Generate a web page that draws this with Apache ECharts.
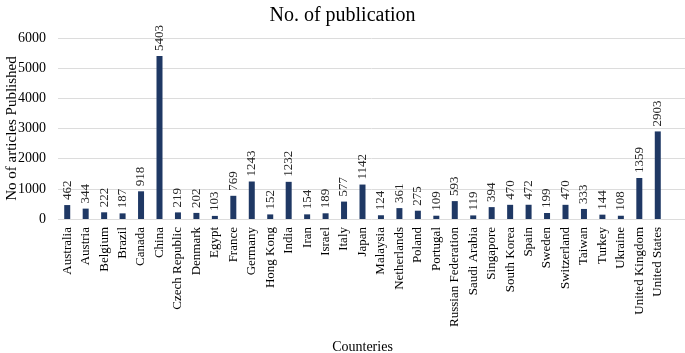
<!DOCTYPE html>
<html><head><meta charset="utf-8">
<script src="https://cdn.jsdelivr.net/npm/echarts@6/dist/echarts.min.js"></script>
<style>html,body{margin:0;padding:0;background:#fff}#c{width:685px;height:353px}</style>
</head><body><div id="c"></div>
<script>
const countries = ["Australia","Austria","Belgium","Brazil","Canada","China","Czech Republic","Denmark","Egypt","France","Germany","Hong Kong","India","Iran","Israel","Italy","Japan","Malaysia","Netherlands","Poland","Portugal","Russian Federation","Saudi Arabia","Singapore","South Korea","Spain","Sweden","Switzerland","Taiwan","Turkey","Ukraine","United Kingdom","United States"];
const publications = [462,344,222,187,918,5403,219,202,103,769,1243,152,1232,154,189,577,1142,124,361,275,109,593,119,394,470,472,199,470,333,144,108,1359,2903];
const yTicks = [0,1000,2000,3000,4000,5000,6000];
const F = "'Liberation Serif','Times New Roman',serif";
const chart = echarts.init(document.getElementById('c'));
chart.setOption({
  animation:false,
  title:{text:"No. of publication",left:'center',top:1,textStyle:{fontFamily:F,fontWeight:'normal',fontSize:20,color:'#000'}},
  grid:[
    {left:58,right:18,top:38,bottom:134,containLabel:false,outerBoundsMode:'none'},
    {left:58,right:0,top:38,bottom:134,containLabel:false,outerBoundsMode:'none'}
  ],
  xAxis:[
    {type:'category',data:countries,gridIndex:0,axisLine:{show:false},axisTick:{show:false},
     axisLabel:{rotate:90,interval:0,margin:8,fontFamily:F,fontSize:13,color:'#000'},
     name:"Counteries",nameLocation:'middle',nameGap:121,nameMoveOverlap:false,nameTextStyle:{fontFamily:F,fontSize:14,color:'#000'}},
    {type:'category',data:countries,gridIndex:1,axisLine:{show:false},axisTick:{show:false},axisLabel:{show:false}}
  ],
  yAxis:[
    {type:'value',gridIndex:0,min:yTicks[0],max:yTicks[yTicks.length-1],interval:1000,
     axisLine:{show:false},axisTick:{show:false},splitLine:{show:false},
     axisLabel:{fontFamily:F,fontSize:14,color:'#000',margin:12,formatter:v=>String(v)},
     name:"No of articles Published",nameLocation:'middle',nameGap:38,nameMoveOverlap:false,nameTextStyle:{fontFamily:F,fontSize:15,color:'#000'}},
    {type:'value',gridIndex:1,min:yTicks[0],max:yTicks[yTicks.length-1],interval:1000,
     axisLine:{show:false},axisTick:{show:false},axisLabel:{show:false},
     splitLine:{show:true,lineStyle:{color:'#dcdcdc',width:1}}}
  ],
  series:[{
    type:'bar',data:publications,xAxisIndex:0,yAxisIndex:0,barWidth:6,z:3,
    itemStyle:{color:'#1f3864'},
    label:{show:true,position:'top',rotate:90,align:'left',verticalAlign:'middle',distance:5,
      fontFamily:F,fontSize:13,color:'#262626'}
  },{
    type:'bar',data:[],xAxisIndex:1,yAxisIndex:1,silent:true
  }]
});
</script></body></html>
